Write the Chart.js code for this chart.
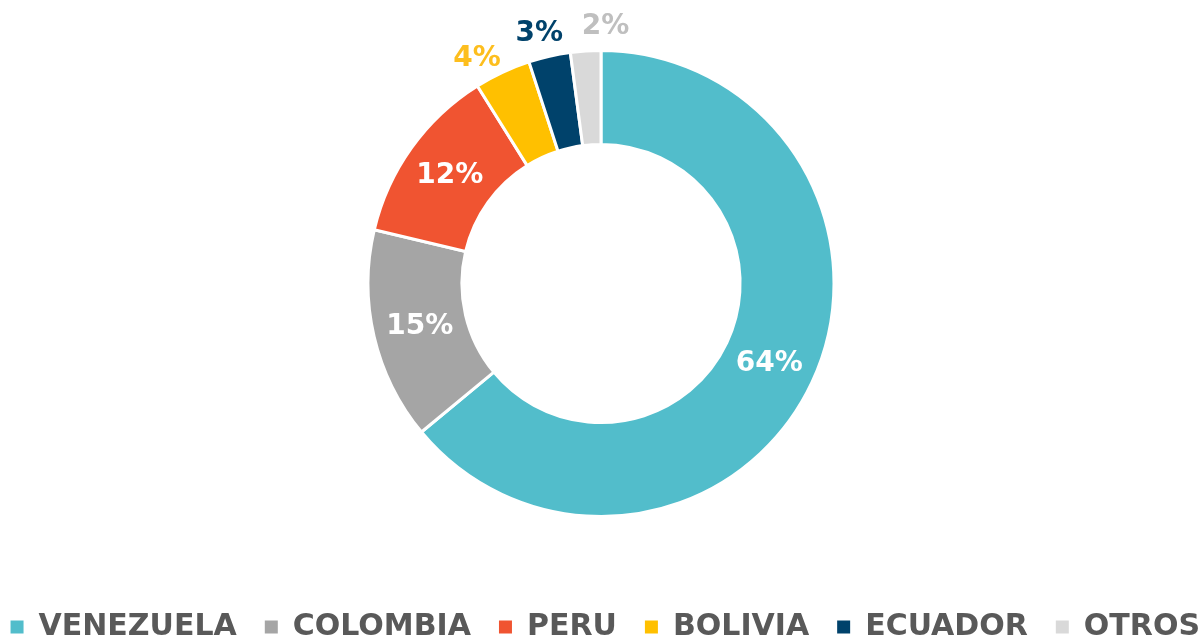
<!DOCTYPE html>
<html><head><meta charset="utf-8">
<script src="https://cdn.jsdelivr.net/npm/chart.js@4/dist/chart.umd.min.js"></script>
<style>html,body{margin:0;padding:0;background:#fff;overflow:hidden}</style>
</head><body>
<canvas id="c" width="1202" height="638"></canvas>
<script>
const categories = ['VENEZUELA', 'COLOMBIA', 'PERU', 'BOLIVIA', 'ECUADOR', 'OTROS'];
const shares = [64.0, 14.7, 12.4, 3.9, 2.9, 2.1];

const sliceColors = ['#52BDCB', '#A5A5A5', '#F05431', '#FFC000', '#00426B', '#D9D9D9'];
const outsideLabelColors = ['#FFFFFF', '#FFFFFF', '#FFFFFF', '#FDBE1E', '#00426B', '#BFBFBF'];

const sliceLabels = {
  id: 'sliceLabels',
  afterDatasetsDraw(chart) {
    const ctx = chart.ctx;
    const meta = chart.getDatasetMeta(0);
    ctx.save();
    ctx.font = 'bold 28px "DejaVu Sans"';
    ctx.textAlign = 'center';
    ctx.textBaseline = 'middle';
    const outside = [];
    meta.data.forEach((arc, i) => {
      const p = arc.getProps(['x', 'y', 'startAngle', 'endAngle', 'innerRadius', 'outerRadius'], true);
      const mid = (p.startAngle + p.endAngle) / 2;
      const v = shares[i];
      const text = Math.round(v) + '%';
      if (v >= 10) {
        const r = (p.innerRadius + p.outerRadius) / 2;
        ctx.fillStyle = '#FFFFFF';
        ctx.fillText(text, p.x + Math.cos(mid) * r, p.y + Math.sin(mid) * r + 1);
      } else {
        outside.push({ p, ang: mid, text, color: outsideLabelColors[i] });
      }
    });
    // spread small outside labels apart along the ring so they do not collide
    if (outside.length) {
      const r = outside[0].p.outerRadius + 25;
      const minSep = 67 / r;
      for (let it = 0; it < 100; it++) {
        for (let j = 1; j < outside.length; j++) {
          const d = outside[j].ang - outside[j - 1].ang;
          if (d < minSep) {
            const s = (minSep - d) / 2;
            outside[j - 1].ang -= s;
            outside[j].ang += s;
          }
        }
      }
      outside.forEach(o => {
        ctx.fillStyle = o.color;
        ctx.fillText(o.text, o.p.x + Math.cos(o.ang) * r, o.p.y + Math.sin(o.ang) * r + 1);
      });
    }
    ctx.restore();
  }
};

new Chart(document.getElementById('c'), {
  type: 'doughnut',
  data: {
    labels: categories,
    datasets: [{
      data: shares,
      backgroundColor: sliceColors,
      borderColor: '#FFFFFF',
      borderWidth: 3,
      radius: 233,
      cutout: '59.7%'
    }]
  },
  options: {
    responsive: false,
    animation: false,
    layout: { padding: { top: 0, bottom: -14, left: -26, right: -26 } },
    plugins: {
      tooltip: { enabled: false },
      legend: {
        position: 'bottom',
        align: 'end',
        title: { display: true, text: ' ', font: { size: 10 }, padding: { top: 0, bottom: 5 } },
        labels: {
          boxWidth: 13,
          boxHeight: 13,
          padding: 28,
          color: '#595959',
          font: { family: '"DejaVu Sans"', size: 30, weight: 'bold' },
          generateLabels(chart) {
            const items = Chart.overrides.doughnut.plugins.legend.labels.generateLabels(chart);
            items.forEach(it => { it.lineWidth = 0; });
            return items;
          }
        }
      }
    }
  },
  plugins: [sliceLabels]
});
</script>
</body></html>
